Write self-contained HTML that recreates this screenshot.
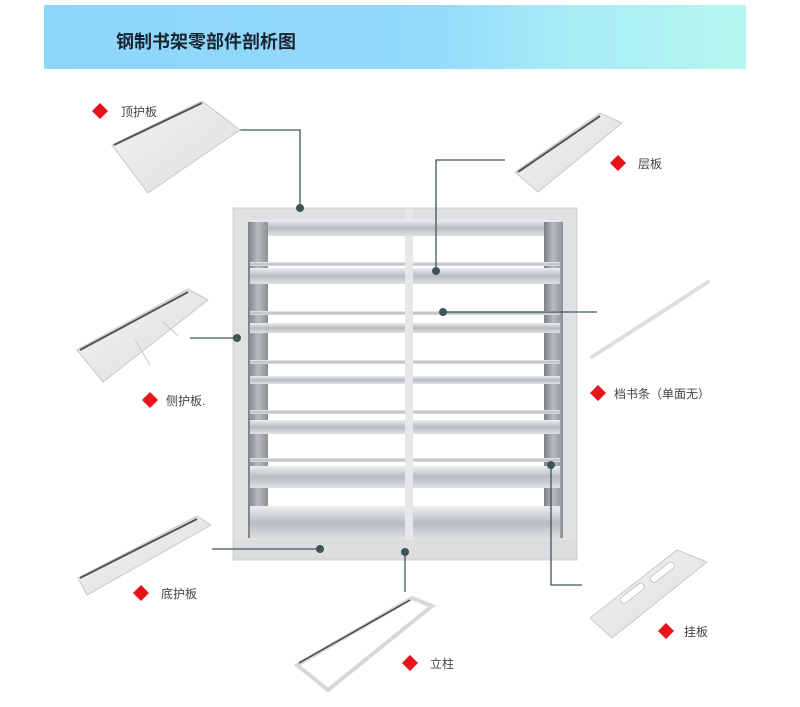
<!DOCTYPE html>
<html><head><meta charset="utf-8"><style>
html,body{margin:0;padding:0;background:#fff;}
svg{display:block;}
text{font-family:"Liberation Sans","Noto Sans CJK SC",sans-serif;}
</style></head><body>
<svg width="800" height="707" viewBox="0 0 800 707" xmlns="http://www.w3.org/2000/svg">
<defs>
<linearGradient id="hdr" x1="0" x2="1" y1="0" y2="0">
<stop offset="0" stop-color="#8dd5fb"/><stop offset="0.55" stop-color="#93dafb"/><stop offset="0.75" stop-color="#a9ecf6"/><stop offset="1" stop-color="#b4f6ee"/>
</linearGradient>
<linearGradient id="shelf" x1="0" x2="0" y1="0" y2="1">
<stop offset="0" stop-color="#eceef0"/><stop offset="0.5" stop-color="#b9bcbf"/><stop offset="1" stop-color="#dfe1e3"/>
</linearGradient>
<linearGradient id="post" x1="0" x2="1" y1="0" y2="0">
<stop offset="0" stop-color="#7e8184"/><stop offset="0.5" stop-color="#b9bbbe"/><stop offset="1" stop-color="#8d9093"/>
</linearGradient>
<linearGradient id="part" x1="0" x2="1" y1="0" y2="1">
<stop offset="0" stop-color="#f1f2f3"/><stop offset="1" stop-color="#dcdee0"/>
</linearGradient>
</defs>
<rect x="44" y="5" width="702" height="64" fill="url(#hdr)"/>
<text x="116" y="48" font-size="18" fill="#1a2430" font-family="'Noto Serif CJK SC',serif" font-weight="bold">钢制书架零部件剖析图</text>

<!-- bookcase -->
<rect x="233" y="208" width="344" height="352" fill="#dfe0e1"/>
<rect x="250" y="220" width="155" height="320" fill="#fff"/>
<rect x="413" y="220" width="147" height="320" fill="#fff"/>
<rect x="405" y="208" width="8" height="350" fill="#e6e7e8"/>
<rect x="250" y="220" width="310" height="16" fill="url(#shelf)"/>
<rect x="248" y="222" width="20" height="316" fill="url(#post)"/>
<rect x="544" y="222" width="19" height="316" fill="url(#post)"/>
<g fill="url(#shelf)">
<rect x="250" y="262" width="155" height="4"/><rect x="413" y="262" width="147" height="4"/>
<rect x="250" y="268" width="155" height="16"/><rect x="413" y="268" width="147" height="16"/>
<rect x="250" y="311" width="155" height="4"/><rect x="413" y="311" width="147" height="4"/>
<rect x="250" y="323" width="155" height="10"/><rect x="413" y="323" width="147" height="10"/>
<rect x="250" y="360" width="155" height="4"/><rect x="413" y="360" width="147" height="4"/>
<rect x="250" y="376" width="155" height="8"/><rect x="413" y="376" width="147" height="8"/>
<rect x="250" y="410" width="155" height="4"/><rect x="413" y="410" width="147" height="4"/>
<rect x="250" y="420" width="155" height="14"/><rect x="413" y="420" width="147" height="14"/>
<rect x="250" y="458" width="155" height="4"/><rect x="413" y="458" width="147" height="4"/>
<rect x="250" y="466" width="155" height="22"/><rect x="413" y="466" width="147" height="22"/>
<rect x="250" y="506" width="155" height="34"/><rect x="413" y="506" width="147" height="34"/>
</g>
<rect x="233" y="540" width="344" height="20" fill="#dcdddf"/>
<rect x="233" y="208" width="344" height="352" fill="none" stroke="#cfd0d2"/>

<!-- connectors -->
<g stroke="#3e5656" stroke-width="1.3" fill="none">
<polyline points="240,130 300,130 300,208"/>
<polyline points="505,160 436,160 436,270"/>
<line x1="190" y1="338" x2="237" y2="338"/>
<line x1="443" y1="312" x2="597" y2="312"/>
<line x1="212" y1="549" x2="320" y2="549"/>
<line x1="405" y1="552" x2="405" y2="592"/>
<polyline points="551,465 551,585 582,585"/>
</g>
<g fill="#3e5656">
<circle cx="300" cy="208" r="4"/><circle cx="436" cy="271" r="4"/><circle cx="237" cy="338" r="4"/>
<circle cx="443" cy="312" r="4"/><circle cx="320" cy="549" r="4"/><circle cx="405" cy="552" r="4"/><circle cx="551" cy="465" r="4"/>
</g>

<!-- parts -->
<g fill="url(#part)" stroke="#c6c8ca" stroke-width="1">
<polygon points="112,145 202,101 240,130 148,193"/>
<polygon points="77,350 188,289 208,300 103,382"/>
<polygon points="515,172 600,113 622,123 538,192"/>
<polygon points="78,578 197,516 211,525 87,595"/>
<polygon points="590,618 677,550 707,562 612,638"/>
</g>
<g stroke="#555" stroke-width="2" fill="none">
<line x1="114" y1="145" x2="202" y2="103"/>
<line x1="80" y1="350" x2="188" y2="292"/>
<line x1="518" y1="172" x2="600" y2="116"/>
<line x1="80" y1="578" x2="197" y2="519"/>
</g>
<line x1="135" y1="340" x2="150" y2="365" stroke="#c6c8ca"/>
<line x1="163" y1="322" x2="178" y2="336" stroke="#c6c8ca"/>
<line x1="592" y1="357" x2="708" y2="282" stroke="#dcdee0" stroke-width="4" stroke-linecap="round"/>
<polygon points="297,665 412,598 432,606 328,690" fill="none" stroke="#d6d8da" stroke-width="4"/>
<line x1="299" y1="663" x2="410" y2="600" stroke="#444" stroke-width="1.5"/>
<g fill="#fff" stroke="#c6c8ca">
<rect x="618" y="590" width="28" height="7" rx="3" transform="rotate(-38 632 593)"/>
<rect x="648" y="569" width="28" height="7" rx="3" transform="rotate(-38 662 572)"/>
</g>

<!-- labels -->
<g fill="#e8121a">
<polygon points="100,103 108,111 100,119 92,111"/>
<polygon points="618,155 626,163 618,171 610,163"/>
<polygon points="150,392 158,400 150,408 142,400"/>
<polygon points="598,385 606,393 598,401 590,393"/>
<polygon points="141,585 149,593 141,601 133,593"/>
<polygon points="410,655 418,663 410,671 402,663"/>
<polygon points="666,623 674,631 666,639 658,631"/>
</g>
<g fill="#444" font-size="12">
<text x="121" y="116">顶护板</text>
<text x="638" y="168">层板</text>
<text x="166" y="405">侧护板.</text>
<text x="614" y="398">档书条（单面无）</text>
<text x="161" y="598">底护板</text>
<text x="430" y="668">立柱</text>
<text x="684" y="636">挂板</text>
</g>
</svg>
</body></html>
